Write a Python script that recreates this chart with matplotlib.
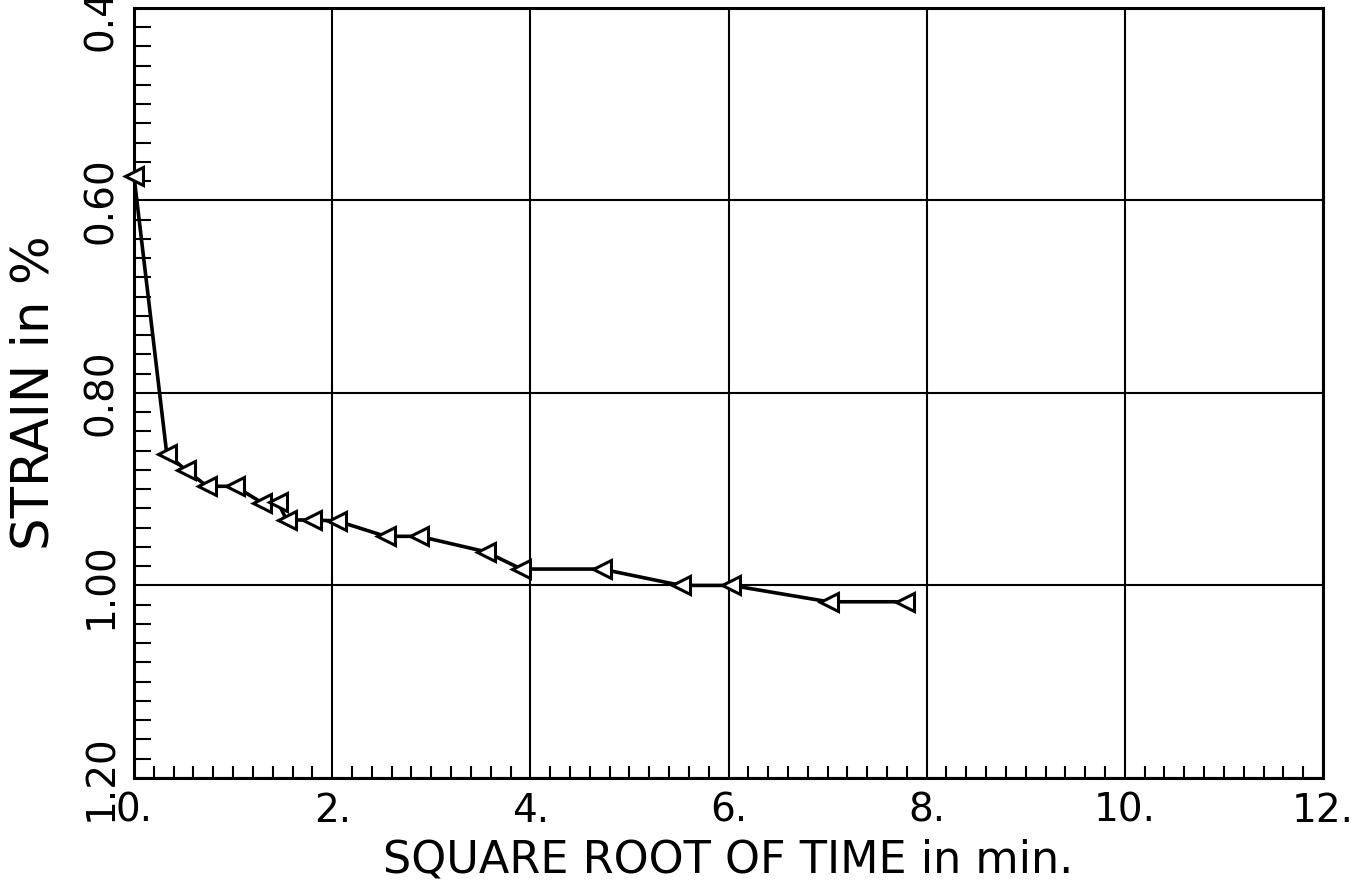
import matplotlib
matplotlib.use("Agg")
import matplotlib.pyplot as plt
from matplotlib.ticker import MultipleLocator, FormatStrFormatter, FuncFormatter

# square root of time (min) and strain (%)
sqrt_t = [0.00, 0.33, 0.52, 0.74, 1.02, 1.29, 1.45, 1.54, 1.80, 2.05,
          2.54, 2.88, 3.55, 3.91, 4.72, 5.52, 6.03, 7.01, 7.78]
strain = [0.575, 0.863, 0.880, 0.897, 0.897, 0.914, 0.913, 0.932, 0.932, 0.933,
          0.949, 0.949, 0.965, 0.983, 0.983, 1.000, 1.000, 1.017, 1.017]

x_ticks = [0, 2, 4, 6, 8, 10, 12]
y_ticks = [0.40, 0.60, 0.80, 1.00, 1.20]

plt.rcParams["font.family"] = ["DejaVu Sans"]

fig = plt.figure(figsize=(13.69, 8.88), dpi=100)
ax = fig.add_axes([0.0979, 0.124, 0.8685, 0.867])

ax.plot(sqrt_t, strain, color="black", lw=2.6, marker="<", ms=12.5,
        mfc="white", mec="black", mew=2.2, clip_on=False, zorder=3)

ax.set_xlim(0, 12)
ax.set_ylim(1.2, 0.4)
ax.set_xticks(x_ticks)
ax.set_yticks(y_ticks)
ax.xaxis.set_minor_locator(MultipleLocator(0.2))
ax.yaxis.set_minor_locator(MultipleLocator(0.02))
ax.xaxis.set_major_formatter(FuncFormatter(lambda v, p: "%d." % v))
ax.yaxis.set_major_formatter(FormatStrFormatter("%.2f"))

ax.grid(True, which="major", color="black", lw=1.5)
ax.tick_params(which="both", direction="in", width=1.5, color="black")
ax.tick_params(which="major", length=0, labelsize=28, pad=10)
ax.tick_params(which="minor", length=9)
ax.tick_params(axis="y", which="minor", length=12)
for lab in ax.get_yticklabels():
    lab.set_rotation(90)
    lab.set_va("center")
for s in ax.spines.values():
    s.set_linewidth(2.2)

ax.set_xlabel("SQUARE ROOT OF TIME in min.", fontsize=32, labelpad=6)
ax.set_ylabel("STRAIN in %", fontsize=37, labelpad=16)

fig.savefig("out.png", dpi=100)
